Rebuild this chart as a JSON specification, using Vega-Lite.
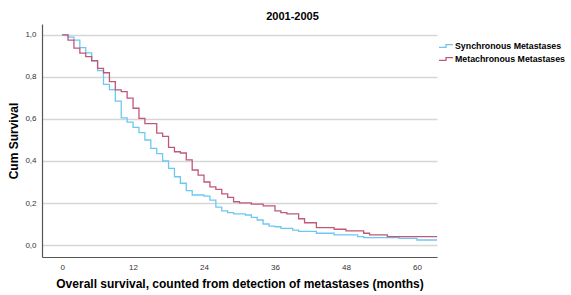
{
  "$schema": "https://vega.github.io/schema/vega-lite/v6.json",
  "autosize": "none",
  "width": 395,
  "height": 233,
  "padding": {"left": 42, "top": 24, "right": 134, "bottom": 38},
  "background": "white",
  "config": {"view": {"stroke": null}, "font": "Liberation Sans"},
  "title": {"text": "2001-2005", "fontSize": 11, "fontWeight": "bold", "color": "#000", "anchor": "middle", "dx": 53, "offset": 2, "font": "Liberation Sans"},
  "data": {"values": [
    {"g": "Synchronous Metastases", "m": 0, "s": 1.0},
    {"g": "Synchronous Metastases", "m": 1, "s": 0.99},
    {"g": "Synchronous Metastases", "m": 2, "s": 0.975},
    {"g": "Synchronous Metastases", "m": 3, "s": 0.94},
    {"g": "Synchronous Metastases", "m": 4, "s": 0.915},
    {"g": "Synchronous Metastases", "m": 5, "s": 0.875},
    {"g": "Synchronous Metastases", "m": 6, "s": 0.83},
    {"g": "Synchronous Metastases", "m": 7, "s": 0.765},
    {"g": "Synchronous Metastases", "m": 8, "s": 0.74},
    {"g": "Synchronous Metastases", "m": 9, "s": 0.685},
    {"g": "Synchronous Metastases", "m": 10, "s": 0.605},
    {"g": "Synchronous Metastases", "m": 11, "s": 0.585},
    {"g": "Synchronous Metastases", "m": 12, "s": 0.56},
    {"g": "Synchronous Metastases", "m": 13, "s": 0.535},
    {"g": "Synchronous Metastases", "m": 14, "s": 0.5},
    {"g": "Synchronous Metastases", "m": 15, "s": 0.46},
    {"g": "Synchronous Metastases", "m": 16, "s": 0.435},
    {"g": "Synchronous Metastases", "m": 17, "s": 0.4},
    {"g": "Synchronous Metastases", "m": 18, "s": 0.365},
    {"g": "Synchronous Metastases", "m": 19, "s": 0.325},
    {"g": "Synchronous Metastases", "m": 20, "s": 0.294},
    {"g": "Synchronous Metastases", "m": 21, "s": 0.259},
    {"g": "Synchronous Metastases", "m": 22, "s": 0.238},
    {"g": "Synchronous Metastases", "m": 24, "s": 0.233},
    {"g": "Synchronous Metastases", "m": 25, "s": 0.214},
    {"g": "Synchronous Metastases", "m": 26, "s": 0.18},
    {"g": "Synchronous Metastases", "m": 27, "s": 0.163},
    {"g": "Synchronous Metastases", "m": 28, "s": 0.154},
    {"g": "Synchronous Metastases", "m": 29, "s": 0.148},
    {"g": "Synchronous Metastases", "m": 31, "s": 0.143},
    {"g": "Synchronous Metastases", "m": 32, "s": 0.132},
    {"g": "Synchronous Metastases", "m": 33, "s": 0.119},
    {"g": "Synchronous Metastases", "m": 34, "s": 0.1},
    {"g": "Synchronous Metastases", "m": 35, "s": 0.09},
    {"g": "Synchronous Metastases", "m": 36, "s": 0.087},
    {"g": "Synchronous Metastases", "m": 37, "s": 0.079},
    {"g": "Synchronous Metastases", "m": 39, "s": 0.071},
    {"g": "Synchronous Metastases", "m": 40, "s": 0.065},
    {"g": "Synchronous Metastases", "m": 43, "s": 0.056},
    {"g": "Synchronous Metastases", "m": 46, "s": 0.048},
    {"g": "Synchronous Metastases", "m": 50, "s": 0.04},
    {"g": "Synchronous Metastases", "m": 51, "s": 0.035},
    {"g": "Synchronous Metastases", "m": 57, "s": 0.032},
    {"g": "Synchronous Metastases", "m": 60, "s": 0.024},
    {"g": "Synchronous Metastases", "m": 63.4, "s": 0.024},
    {"g": "Metachronous Metastases", "m": 0, "s": 1.0},
    {"g": "Metachronous Metastases", "m": 1, "s": 0.975},
    {"g": "Metachronous Metastases", "m": 2, "s": 0.937},
    {"g": "Metachronous Metastases", "m": 3, "s": 0.913},
    {"g": "Metachronous Metastases", "m": 4, "s": 0.897},
    {"g": "Metachronous Metastases", "m": 5, "s": 0.878},
    {"g": "Metachronous Metastases", "m": 6, "s": 0.841},
    {"g": "Metachronous Metastases", "m": 7, "s": 0.82},
    {"g": "Metachronous Metastases", "m": 8, "s": 0.778},
    {"g": "Metachronous Metastases", "m": 9, "s": 0.738},
    {"g": "Metachronous Metastases", "m": 10, "s": 0.73},
    {"g": "Metachronous Metastases", "m": 11, "s": 0.699},
    {"g": "Metachronous Metastases", "m": 12, "s": 0.651},
    {"g": "Metachronous Metastases", "m": 13, "s": 0.603},
    {"g": "Metachronous Metastases", "m": 14, "s": 0.578},
    {"g": "Metachronous Metastases", "m": 16, "s": 0.533},
    {"g": "Metachronous Metastases", "m": 17, "s": 0.517},
    {"g": "Metachronous Metastases", "m": 18, "s": 0.465},
    {"g": "Metachronous Metastases", "m": 19, "s": 0.444},
    {"g": "Metachronous Metastases", "m": 20, "s": 0.438},
    {"g": "Metachronous Metastases", "m": 21, "s": 0.405},
    {"g": "Metachronous Metastases", "m": 22, "s": 0.357},
    {"g": "Metachronous Metastases", "m": 23, "s": 0.333},
    {"g": "Metachronous Metastases", "m": 24, "s": 0.3},
    {"g": "Metachronous Metastases", "m": 25, "s": 0.277},
    {"g": "Metachronous Metastases", "m": 26, "s": 0.265},
    {"g": "Metachronous Metastases", "m": 27, "s": 0.243},
    {"g": "Metachronous Metastases", "m": 28, "s": 0.227},
    {"g": "Metachronous Metastases", "m": 29, "s": 0.206},
    {"g": "Metachronous Metastases", "m": 30, "s": 0.201},
    {"g": "Metachronous Metastases", "m": 32, "s": 0.195},
    {"g": "Metachronous Metastases", "m": 34, "s": 0.186},
    {"g": "Metachronous Metastases", "m": 36, "s": 0.163},
    {"g": "Metachronous Metastases", "m": 37, "s": 0.154},
    {"g": "Metachronous Metastases", "m": 38, "s": 0.148},
    {"g": "Metachronous Metastases", "m": 40, "s": 0.125},
    {"g": "Metachronous Metastases", "m": 41, "s": 0.106},
    {"g": "Metachronous Metastases", "m": 43, "s": 0.083},
    {"g": "Metachronous Metastases", "m": 46, "s": 0.075},
    {"g": "Metachronous Metastases", "m": 48, "s": 0.067},
    {"g": "Metachronous Metastases", "m": 51, "s": 0.056},
    {"g": "Metachronous Metastases", "m": 52, "s": 0.048},
    {"g": "Metachronous Metastases", "m": 55, "s": 0.04},
    {"g": "Metachronous Metastases", "m": 63.4, "s": 0.04}
  ]},
  "mark": {"type": "line", "interpolate": "step-after", "strokeWidth": 1.3, "clip": true},
  "encoding": {
    "x": {"field": "m", "type": "quantitative",
      "scale": {"domain": [-3.4, 63.4], "nice": false, "zero": false},
      "axis": {"values": [0, 12, 24, 36, 48, 60], "title": "Overall survival, counted from detection of metastases (months)",
        "grid": false, "ticks": false, "labelFontSize": 8, "labelColor": "#333", "labelPadding": 6,
        "domainColor": "#555", "domainWidth": 1.2,
        "titleFontSize": 12, "titleFontWeight": "bold", "titleColor": "#000", "titlePadding": 7}},
    "y": {"field": "s", "type": "quantitative",
      "scale": {"domain": [-0.057, 1.052], "nice": false, "zero": false},
      "axis": {"values": [0, 0.2, 0.4, 0.6, 0.8, 1.0], "title": "Cum Survival",
        "labelExpr": "replace(format(datum.value, '.1f'), '.', ',')",
        "grid": true, "gridColor": "#d6d6d6", "gridWidth": 1.5, "ticks": false,
        "labelFontSize": 8, "labelColor": "#333", "labelPadding": 6,
        "domainColor": "#555", "domainWidth": 1.2,
        "titleFontSize": 12, "titleFontWeight": "bold", "titleColor": "#000", "titlePadding": 4}},
    "color": {"field": "g", "type": "nominal",
      "scale": {"domain": ["Synchronous Metastases", "Metachronous Metastases"], "range": ["#6cc8f3", "#c0587a"]},
      "legend": {"title": null, "orient": "none", "legendX": 396, "legendY": 14,
        "symbolType": "M -1 0.2 L 0 0.2 L 0 -0.2 L 1 -0.2", "symbolSize": 196, "symbolStrokeWidth": 1.3,
        "labelFontSize": 8.8, "labelFontWeight": "bold", "labelColor": "#000", "labelOffset": 1, "rowPadding": -4}}
  }
}
